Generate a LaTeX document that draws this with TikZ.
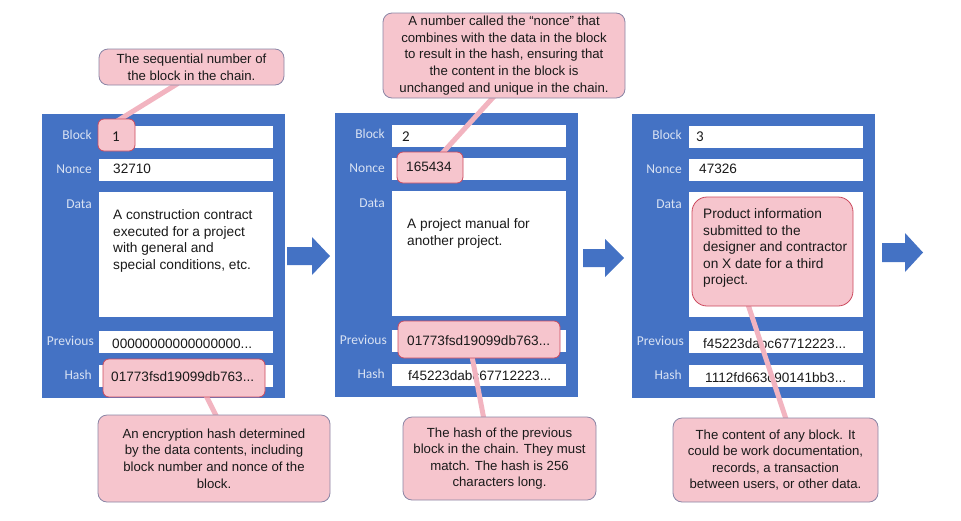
\documentclass[tikz,border=0pt]{standalone}
\usepackage{fontspec}
\setmainfont{Liberation Sans}
\newfontfamily\calibri{Carlito}
\usetikzlibrary{calc}

\definecolor{blockblue}{HTML}{4472C4}
\definecolor{lblcol}{HTML}{D9E2F3}
\definecolor{pinkfill}{HTML}{F6C5CD}
\definecolor{calloutedge}{HTML}{8A85A5}
\definecolor{hiedge}{HTML}{CC4A5E}
\definecolor{linkpink}{HTML}{F2B4C0}
\definecolor{txt}{HTML}{1A1A1A}

\pgfdeclarelayer{base}
\pgfdeclarelayer{links}
\pgfsetlayers{base,links,main}

\newcommand{\chainblock}[3]{%
  \node[blockbg, anchor=north west] (#1) at (#2,#3) {};
  \node[field, minimum height=22pt, anchor=north west] (#1fb) at ($(#1.north west)+(57,12)$) {};
  \node[field, minimum height=22pt, anchor=north west] (#1fn) at ($(#1.north west)+(57,45)$) {};
  \node[field, minimum height=125pt, anchor=north west] (#1fd) at ($(#1.north west)+(57,78)$) {};
  \node[field, minimum height=22pt, anchor=north west] (#1fp) at ($(#1.north west)+(57,217)$) {};
  \node[field, minimum height=22pt, anchor=north west] (#1fh) at ($(#1.north west)+(57,251)$) {};
  \node[lbl, anchor=base east] (#1lb) at ($(#1.north west)+(50,25)$) {Block};
  \node[lbl, anchor=base east] (#1ln) at ($(#1.north west)+(50,59)$) {Nonce};
  \node[lbl, anchor=base east] (#1ld) at ($(#1.north west)+(50,94)$) {Data};
  \node[lbl, anchor=base east] (#1lp) at ($(#1.north west)+(52,231)$) {Previous};
  \node[lbl, anchor=base east] (#1lh) at ($(#1.north west)+(50,265)$) {Hash};
}

\begin{document}
\begin{tikzpicture}[x=1pt,y=-1pt,
  blockbg/.style={fill=blockblue, draw=none, minimum width=243pt, minimum height=284pt, inner sep=0pt},
  field/.style={fill=white, draw=none, minimum width=174pt, inner sep=0pt},
  lbl/.style={font=\calibri\fontsize{13.5}{16}\selectfont, text=lblcol, inner sep=0pt},
  val/.style={font=\fontsize{13.6}{16}\selectfont, text=txt, inner sep=0pt},
  num/.style={font=\calibri\fontsize{15}{18}\selectfont, text=txt, inner sep=0pt},
  datatext/.style={font=\fontsize{13.7}{16.5}\selectfont, text=txt, inner sep=0pt, align=left, anchor=north west},
  callout/.style={fill=pinkfill, draw=calloutedge, line width=0.8pt, rounded corners=9pt, align=center, font=\fontsize{13.2}{16.6}\selectfont, text=txt, inner sep=0pt},
  hibox/.style={fill=pinkfill, draw=hiedge, line width=0.8pt, rounded corners=6pt, inner sep=0pt},
  link/.style={draw=linkpink, line width=5pt},
  flow/.style={fill=blockblue, draw=none}
]
\useasboundingbox (0,0) rectangle (961,520);

\begin{pgfonlayer}{base}
% blocks
\chainblock{bA}{42}{114}
\chainblock{bB}{335}{113}
\chainblock{bC}{632}{114}

% flow arrows
\fill[flow] (287,247) -- (312,247) -- (312,237) -- (330,256) -- (312,275) -- (312,265) -- (287,265) -- cycle;
\fill[flow] (583,249) -- (605,249) -- (605,239) -- (624,258) -- (605,277) -- (605,267) -- (583,267) -- cycle;
\fill[flow] (882,243) -- (905,243) -- (905,233) -- (923,252.5) -- (905,272) -- (905,262) -- (882,262) -- cycle;

% field values
\node[val, anchor=base west] (vAn) at (113,173.3) {32710};
\node[val, anchor=base west] (vAp) at (112,348) {00000000000000000...};
\node[datatext] (vAd) at (113,209.5) {A construction contract\\executed for a project\\with general and\\special conditions, etc.};

\node[num, anchor=base west] (vBb) at (402,141.5) {2};
\node[val, anchor=base west] (vBh) at (408,380) {f45223dabc67712223...};
\node[datatext, font=\fontsize{13.7}{17}\selectfont] (vBd) at (407,218.5) {A project manual for\\another project.};

\node[num, anchor=base west] (vCb) at (696,141.7) {3};
\node[val, anchor=base west] (vCn) at (699,173.3) {47326};
\node[val, anchor=base west] (vCp) at (703,348.3) {f45223dabc67712223...};
\node[val, anchor=base west] (vCh) at (705,382) {1112fd663c90141bb3...};
\end{pgfonlayer}

% highlight boxes
\node[hibox, minimum width=37pt, minimum height=32pt] (hA1) at (116.5,135) {};
\node[num, anchor=base west] (vAb) at (112,141.7) {1};
\node[hibox, minimum width=162pt, minimum height=38pt] (hA2) at (184,378) {};
\node[val, anchor=base west] (vAh) at (111,381.7) {01773fsd19099db763...};
\node[hibox, minimum width=66pt, minimum height=31pt] (hB1) at (430,167.5) {};
\node[val, anchor=base west] (vBn) at (406,171.7) {165434};
\node[hibox, minimum width=162pt, minimum height=37pt] (hB2) at (479,339.5) {};
\node[val, anchor=base west] (vBp) at (407,345) {01773fsd19099db763...};
\node[hibox, minimum width=161pt, minimum height=109pt, rounded corners=15pt] (hC1) at (772.5,251.5) {};
\node[datatext] (vCd) at (703,208.5) {Product information\\submitted to the\\designer and contractor\\on X date for a third\\project.};

% callouts
\node[callout, minimum width=185pt, minimum height=36pt] (cA1) at (191.5,67)
  {The sequential number of\\the block in the chain.};
\node[callout, minimum width=242pt, minimum height=85pt] (cB1) at (504,55.5)
  {A number called the “nonce” that\\combines with the data in the block\\to result in the hash, ensuring that\\the content in the block is\\unchanged and unique in the chain.};
\node[callout, minimum width=232pt, minimum height=87pt] (cA2) at (214,458.5)
  {An encryption hash determined\\by the data contents, including\\block number and nonce of the\\block.};
\node[callout, minimum width=193pt, minimum height=83pt] (cB2) at (499.5,458.5)
  {The hash of the previous\\block in the chain. They must\\match. The hash is 256\\characters long.};
\node[callout, minimum width=205pt, minimum height=84pt] (cC1) at (775.5,460)
  {The content of any block. It\\could be work documentation,\\records, a transaction\\between users, or other data.};

% connectors, beneath boxes but above fields
\begin{pgfonlayer}{links}
\draw[link] ($(cA1.south)+(-13.5,-2)$) -- ($(hA1.north west)+(17,4)$);
\draw[link] ($(hA2.south)+(22,-2)$) -- ($(cA2.north)+(3,3)$);
\draw[link] ($(cB1.south)+(-10,-2)$) -- ($(hB1.north)+(11,3)$);
\draw[link] ($(hB2.south)+(-7,-2)$) -- ($(cB2.north)+(-15.5,3)$);
\draw[link] ($(hC1.south)+(-24.5,-2)$) -- ($(cC1.north)+(11,3)$);
\end{pgfonlayer}
\end{tikzpicture}
\end{document}
